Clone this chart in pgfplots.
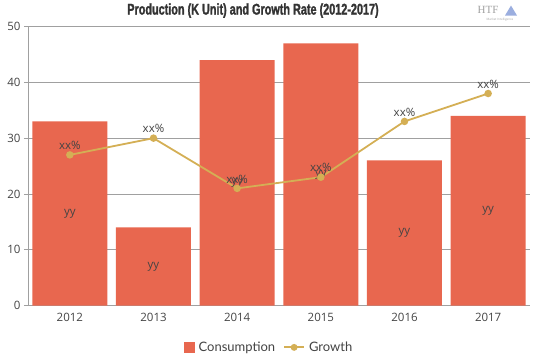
\documentclass[border=0pt]{standalone}
\usepackage{pgfplots}
\pgfplotsset{compat=1.18}
\usepackage{fontspec}
\setmainfont{Open Sans}
\newfontfamily\titlefont[FakeStretch=0.7,FakeBold=1.5]{Liberation Sans Bold}
\newfontfamily\legfont{Lato}
\definecolor{barc}{HTML}{E8674F}
\definecolor{linec}{HTML}{D4AF55}
\definecolor{txtc}{HTML}{444444}
\definecolor{gridc}{HTML}{A0A0A0}
\begin{document}
\begin{tikzpicture}[x=1pt,y=1pt]
\path (0,0) rectangle (539,359);
\node[font=\titlefont\fontsize{15.5}{17}\selectfont, text=black!80] at (253,349) {Production (K Unit) and Growth Rate (2012-2017)};
\node[font=\fontspec{Liberation Serif}\fontsize{11}{12}\selectfont, text=gridc] at (488,350) {HTF};
\fill[cyan!40!blue!40] (505,344) -- (511,354) -- (517,344) -- cycle;
\node[font=\fontsize{3}{4}\selectfont, text=gridc] at (500,340) {Market Intelligence};
\begin{axis}[
  at={(28pt,54pt)}, anchor=south west,
  width=502pt, height=279pt, scale only axis,
  xmin=-0.5, xmax=5.5, ymin=0, ymax=50,
  xtick={0,...,5}, xticklabels={2012,2013,2014,2015,2016,2017},
  ytick={0,10,...,50},
  ymajorgrids, grid style={gridc, line width=0.6pt},
  axis x line*=bottom, axis y line*=left,
  axis line style={gridc, line width=0.6pt},
  x axis line style={-}, y axis line style={-},
  major tick length=4pt,
  xtick style={draw=none},
  ytick style={gridc, line width=0.6pt},
  tick align=outside,
  /pgf/number format/assume math mode=true,
  tick label style={font=\fontsize{11.5}{13}\selectfont, text=txtc},
  legend style={at={(0.48,-0.115)}, anchor=north, draw=none, legend columns=2,
    font=\legfont\fontsize{13}{15}\selectfont, text=txtc,
    /tikz/every even column/.append style={column sep=6pt},
    /tikz/every odd column/.append style={column sep=2pt}},
  legend image code/.code={},
  clip=false,
]
\addplot[ybar, bar width=75pt, fill=barc, draw=none, bar shift=0pt,
  legend image code/.code={\fill[barc] (0pt,-5.5pt) rectangle (11pt,5.5pt);}]
  coordinates {(0,33) (1,14) (2,44) (3,47) (4,26) (5,34)};
\addlegendentry{Consumption}
\addplot[draw=none, mark=none, forget plot,
  nodes near coords={yy}, every node near coord/.append style={anchor=center, font=\fontsize{11.5}{13}\selectfont, text=txtc}]
  coordinates {(0,16.5) (1,7) (2,22) (3,23.5) (4,13) (5,17)};
\addplot[linec, line width=1.8pt, mark=*, mark size=2.8pt, mark options={fill=linec, draw=linec},
  nodes near coords={xx\%}, every node near coord/.append style={anchor=south, yshift=1pt, font=\fontsize{11.5}{13}\selectfont, text=txtc},
  legend image code/.code={\draw[linec, line width=1.8pt] (0pt,0pt) -- (20pt,0pt); \fill[linec] (10pt,0pt) circle (2.5pt);}]
  coordinates {(0,27) (1,30) (2,21) (3,23) (4,33) (5,38)};
\addlegendentry{Growth}
\end{axis}
\end{tikzpicture}
\end{document}
